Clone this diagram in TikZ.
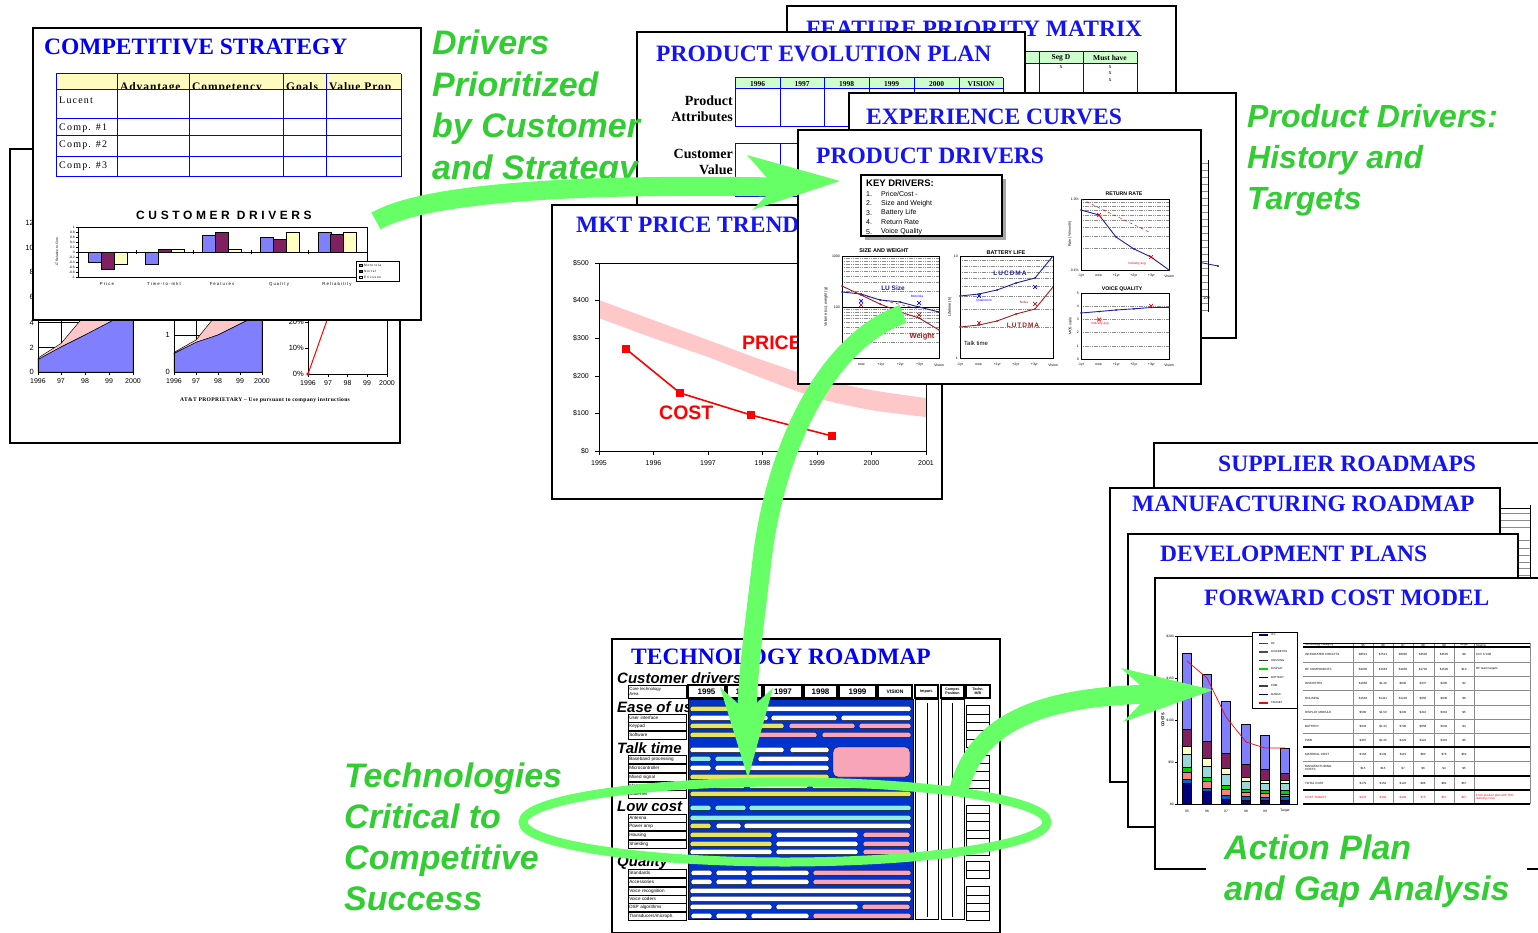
\documentclass[tikz,border=0pt]{standalone}
\usepackage{fontspec}
\setmainfont{Liberation Serif}
\setsansfont{Liberation Sans}
\definecolor{tblue}{RGB}{20,20,240}
\definecolor{ggreen}{RGB}{50,205,50}
\definecolor{agreen}{RGB}{102,255,102}
\definecolor{periw}{RGB}{128,128,255}
\definecolor{maroonc}{RGB}{128,32,96}
\definecolor{lyel}{RGB}{255,255,192}
\definecolor{hyel}{RGB}{255,250,190}
\definecolor{hgrn}{RGB}{204,255,204}
\definecolor{pband}{RGB}{255,200,200}
\definecolor{rblue}{RGB}{0,51,204}
\definecolor{barY}{RGB}{230,228,90}
\definecolor{barC}{RGB}{140,238,228}
\definecolor{barP}{RGB}{248,165,185}
\definecolor{dred}{RGB}{160,30,30}
\definecolor{sblue}{RGB}{30,30,160}
\definecolor{navyc}{RGB}{0,0,128}
\definecolor{midb}{RGB}{0,102,204}
\definecolor{salm}{RGB}{255,128,128}
\definecolor{lcyan}{RGB}{153,216,216}
\definecolor{gbar}{RGB}{0,210,0}
\definecolor{pgray}{gray}{0.55}
\newcommand{\pl}[4]{\filldraw[fill=#4,draw=black,line width=0.3pt,rounded corners=2.4pt] (#1,#3-2.6) rectangle (#2,#3+2.6);}
\newcommand{\xm}[3]{\draw[#3,line width=0.7pt] (#1-1.8,#2-1.8) -- (#1+1.8,#2+1.8) (#1-1.8,#2+1.8) -- (#1+1.8,#2-1.8);}
\newcommand{\cdbar}[3]{\filldraw[fill=#3,draw=black,line width=0.4pt] (#1,252) rectangle (#1+13,{252-25*(#2)});}
\newcommand{\stk}[9]{%
 \filldraw[fill=navyc,draw=black,line width=0.3pt] (#1-4.5,804) rectangle (#1+4.5,804-0.84*#2);
 \filldraw[fill=midb,draw=black,line width=0.3pt] (#1-4.5,804-0.84*#2) rectangle (#1+4.5,804-0.84*#3);
 \filldraw[fill=salm,draw=black,line width=0.3pt] (#1-4.5,804-0.84*#3) rectangle (#1+4.5,804-0.84*#4);
 \filldraw[fill=gbar,draw=black,line width=0.3pt] (#1-4.5,804-0.84*#4) rectangle (#1+4.5,804-0.84*#5);
 \filldraw[fill=lcyan,draw=black,line width=0.3pt] (#1-4.5,804-0.84*#5) rectangle (#1+4.5,804-0.84*#6);
 \filldraw[fill=lyel,draw=black,line width=0.3pt] (#1-4.5,804-0.84*#6) rectangle (#1+4.5,804-0.84*#7);
 \filldraw[fill=maroonc,draw=black,line width=0.3pt] (#1-4.5,804-0.84*#7) rectangle (#1+4.5,804-0.84*#8);
 \filldraw[fill=periw,draw=black,line width=0.3pt] (#1-4.5,804-0.84*#8) rectangle (#1+4.5,804-0.84*#9);}
\newcommand{\trow}[9]{%
 \node[sz=3,anchor=west,align=left,trt] (tr#1a) at (1305,#1) {#2};
 \node[sz=3,trt] (tr#1b) at (1363,#1) {#3};
 \node[sz=3,trt] (tr#1c) at (1383,#1) {#4};
 \node[sz=3,trt] (tr#1d) at (1403,#1) {#5};
 \node[sz=3,trt] (tr#1e) at (1423,#1) {#6};
 \node[sz=3,trt] (tr#1f) at (1444,#1) {#7};
 \node[sz=3,trt] (tr#1g) at (1464,#1) {#8};
 \node[sz=3,anchor=west,align=left,trt] (tr#1h) at (1476,#1) {#9};}
\newcommand{\xlab}[4]{\foreach \t [count=\i] in {-1yr,now,+1yr,+2yr,+3yr,Vision} \node[sz=3.5] (#4\i) at ({#1+(\i-1)*#2},#3) {\t};}
\begin{document}
\begin{tikzpicture}[x=1pt,y=-1pt,
 panel/.style={draw=black,line width=2.4pt,fill=white,inner sep=0pt,anchor=north west},
 ttl/.style={font=\bfseries\fontsize{23.5}{24}\selectfont,text=tblue,anchor=west,inner sep=0pt},
 gtxt/.style={font=\sffamily\bfseries\itshape\fontsize{34}{40}\selectfont,text=ggreen,anchor=base west,inner sep=0pt},
 sz/.style={inner sep=0pt,font=\sffamily\fontsize{#1}{#1}\selectfont},
 szb/.style={inner sep=0pt,font=\sffamily\bfseries\fontsize{#1}{#1}\selectfont},
 srb/.style={inner sep=0pt,font=\bfseries\fontsize{#1}{#1}\selectfont},
 sech/.style={inner sep=0pt,anchor=west,font=\sffamily\bfseries\itshape\fontsize{15}{15}\selectfont},
 bgrid/.style={draw=blue,line width=1pt},
 lgr/.style={draw=pgray,line width=0.45pt,dash pattern=on 1.2pt off 0.6pt},
 band/.style={draw=agreen,line width=19pt},
 ahead/.style={fill=agreen,draw=none},
 thinl/.style={line width=0.5pt},
 trt/.style={text=black},
 rlab/.style={draw,line width=0.6pt,inner sep=0pt,anchor=west,minimum width=58pt,minimum height=8pt,text width=56pt,align=left,font=\sffamily\fontsize{4.6}{4.6}\selectfont},
 ]
\fill[white] (0,0) rectangle (1538,933);
\useasboundingbox (0,0) rectangle (1538,933);

% ================= back panel (AT&T charts)
\node[panel,minimum width=390pt,minimum height=294pt] (att) at (9,148) {};
\foreach \v/\y [count=\i] in {12/223,10/248,8/272,6/297,4/323,2/348,0/372} \node[sz=7.5,anchor=east] (av\i) at (34,\y) {\v};
\draw[thinl] (38,347) -- (133,347) (38,322.5) -- (133,322.5) (61,300) -- (61,372) (85,300) -- (85,372) (109,300) -- (109,372);
\filldraw[fill=pband,draw=black,thinl] (38,359.6) -- (38,358) -- (61,343.5) -- (85,315) -- (109,300) -- (133,290) -- (133,310) -- (109,322.5) -- (85,335) -- (61,347) -- cycle;
\filldraw[fill=periw,draw=black,thinl] (38,372) -- (38,359.6) -- (61,347) -- (85,335) -- (109,322.5) -- (133,310) -- (133,372) -- cycle;
\draw[line width=0.8pt] (38,300) -- (38,372) -- (133,372) -- (133,300);
\foreach \x/\t [count=\i] in {38/1996,61/97,85/98,109/99,133/2000} {\draw (\x,372) -- (\x,375); \node[sz=7,anchor=north] (axa\i) at (\x,378) {\t};}
% chart 2
\draw[thinl] (174,335) -- (262,335) (196,300) -- (196,372) (218,300) -- (218,372) (240,300) -- (240,372);
\filldraw[fill=pband,draw=black,thinl] (174,353.5) -- (174,352.4) -- (196,340) -- (213,319) -- (225,295) -- (262,290) -- (262,313) -- (240,324) -- (218,335) -- (196,342.4) -- cycle;
\filldraw[fill=periw,draw=black,thinl] (174,372) -- (174,353.5) -- (196,342.4) -- (218,335) -- (240,324) -- (262,313) -- (262,372) -- cycle;
\draw[line width=0.8pt] (174,300) -- (174,372) -- (262,372) -- (262,300);
\node[sz=7.5,anchor=east] (bv1) at (170,335) {1};
\node[sz=7.5,anchor=east] (bv0) at (170,372) {0};
\foreach \x/\t [count=\i] in {174/1996,196/97,218/98,240/99,262/2000} {\draw (\x,372) -- (\x,375); \node[sz=7,anchor=north] (axb\i) at (\x,378) {\t};}
% chart 3
\draw[line width=0.8pt] (308,300) -- (308,374) -- (387,374) -- (387,300);
\draw (305,348) -- (308,348) (305,322) -- (308,322);
\foreach \x/\t [count=\i] in {308/1996,328/97,347.5/98,367/99,387/2000} {\draw (\x,374) -- (\x,377); \node[sz=7,anchor=north] (axc\i) at (\x,380) {\t};}
\node[sz=7.5,anchor=east] (cv2) at (304,322) {20\%};
\node[sz=7.5,anchor=east] (cv1) at (304,348) {10\%};
\node[sz=7.5,anchor=east] (cv0) at (304,374) {0\%};
\draw[red,line width=1pt] (308,374) -- (332,306);
\fill[red] (308,374) circle (1.8);
\node[srb=5.6] (attf) at (265,400) {\addfontfeature{LetterSpace=6}AT\&T PROPRIETARY -- Use pursuant to company instructions};

% ================= competitive strategy
\node[panel,minimum width=388pt,minimum height=292pt] (cs) at (32,27) {};
\node[ttl,text={rgb,255:red,0;green,0;blue,245}] (csT) at (44,47) {COMPETITIVE STRATEGY};
\fill[hyel] (56,74) rectangle (401,90);
\begin{scope}
\clip (56,74) rectangle (401,89.5);
\foreach \x/\t [count=\i] in {120/Advantage,192/Competency,286/Goals,329/Value Prop} \node[srb=11.5,anchor=base west] (csh\i) at (\x,91) {\addfontfeature{LetterSpace=8}\t};
\end{scope}
\draw[bgrid] (56,74) -- (401,74) (56,90) -- (401,90) (56,119) -- (401,119) (56,136) -- (401,136) (56,157) -- (401,157) (56,177) -- (401,177);
\foreach \x in {56,117,189,283,326,401} \draw[bgrid] (\x,74) -- (\x,177);
\foreach \y/\t [count=\i] in {100/Lucent,128/Comp. \#1,145/Comp. \#2,166/Comp. \#3} \node[anchor=west,inner sep=0pt,font=\fontsize{10}{10}\selectfont] (csr\i) at (59,\y) {\addfontfeature{LetterSpace=12}\t};
% customer drivers chart
\node[szb=12] (cdT) at (224,215) {\addfontfeature{LetterSpace=30}CUSTOMER DRIVERS};
\draw[line width=0.7pt] (78,227) rectangle (367,277);
\foreach \t [count=\i] in {1,0.8,0.6,0.4,0.2,0,-0.2,-0.4,-0.6,-0.8,-1} {\draw (76,{222+5*\i}) -- (78,{222+5*\i}); \node[sz=3.3,anchor=east] (cdy\i) at (75,{222+5*\i}) {\t};}
\cdbar{88}{-0.4}{periw}\cdbar{101}{-0.68}{maroonc}\cdbar{114}{-0.48}{lyel}
\cdbar{145}{-0.48}{periw}\cdbar{158}{0.1}{maroonc}\cdbar{171}{0.1}{lyel}
\cdbar{202}{0.67}{periw}\cdbar{215}{0.8}{maroonc}\cdbar{228}{0.1}{lyel}
\cdbar{260}{0.58}{periw}\cdbar{273}{0.5}{maroonc}\cdbar{286}{0.8}{lyel}
\cdbar{318}{0.8}{periw}\cdbar{330}{0.7}{maroonc}\cdbar{343}{0.8}{lyel}
\draw[line width=0.7pt] (78,252) -- (367,252);
\foreach \x in {136,193,251,308} \draw (\x,250) -- (\x,254);
\foreach \x/\t [count=\i] in {107/Price,164/Time-to-mkt,222/Features,279/Quality,337/Reliability} \node[sz=4.3] (cdx\i) at (\x,284) {\addfontfeature{LetterSpace=25}\t};
\node[sz=3.3,rotate=90] (cdyl) at (57,252) {LT Relative to Com};
\draw[line width=0.6pt,fill=white] (356,261) rectangle (399,281);
\foreach \c/\t/\y [count=\i] in {periw/Motorola/265,maroonc/Nortel/271,lyel/Ericsson/277} {\filldraw[fill=\c,draw=black,line width=0.2pt] (359,\y-1.3) rectangle (362,\y+1.3); \node[sz=3.2,anchor=west] (cdl\i) at (364,\y) {\addfontfeature{LetterSpace=20}\t};}

% ================= feature priority matrix
\node[panel,minimum width=389pt,minimum height=150pt] (fpm) at (786,5) {};
\node[ttl] (fpmT) at (806,28.5) {FEATURE PRIORITY MATRIX};
\fill[hgrn] (990,52) rectangle (1137,64);
\draw[bgrid] (990,52) -- (1137,52) (990,64) -- (1137,64);
\foreach \x in {995,1039,1083,1137} \draw[bgrid] (\x,52) -- (\x,110);
\node[srb=7.5] (fh1) at (1017,58) {Seg C};
\node[srb=7.5] (fh2) at (1061,58) {Seg D};
\node[srb=7.5] (fh3) at (1110,58) {Must have};
\foreach \x/\y [count=\i] in {1061/67,1110/67,1110/73,1110/80} \node[inner sep=0pt,font=\fontsize{6}{6}\selectfont] (fx\i) at (\x,\y) {x};

% ================= product evolution plan
\node[panel,minimum width=388pt,minimum height=200pt] (pep) at (636,31) {};
\node[ttl] (pepT) at (656,54) {PRODUCT EVOLUTION PLAN};
\fill[hgrn] (735,78) rectangle (1003,89);
\draw[bgrid] (735,78) -- (1003,78) (735,89) -- (1003,89) (735,127) -- (1003,127) (735,144) -- (1003,144) (735,197) -- (1003,197);
\foreach \x in {735,780,824,869,914,959,1003} \draw[bgrid] (\x,78) -- (\x,127) (\x,144) -- (\x,197);
\foreach \a/\b/\t [count=\i] in {735/780/1996,780/824/1997,824/869/1998,869/914/1999,914/959/2000,959/1003/VISION} \node[srb=7.5] (pey\i) at ({(\a+\b)/2},84) {\t};
\node[srb=14,anchor=base east] (pe1) at (733,106) {Product};
\node[srb=14,anchor=base east] (pe2) at (733,122) {Attributes};
\node[srb=14,anchor=base east] (pe3) at (733,159) {Customer};
\node[srb=14,anchor=base east] (pe4) at (733,175) {Value};

% ================= experience curves
\node[panel,minimum width=387pt,minimum height=245pt] (exc) at (848,92) {};
\node[ttl] (excT) at (866,117) {EXPERIENCE CURVES};
\foreach \k in {0,...,21} \draw[pgray,line width=0.5pt] (1198,{163+7*\k}) -- (1208,{163+7*\k});
\draw[line width=0.6pt] (1208,160) -- (1208,312);
\draw[sblue,line width=0.8pt] (1198,262) -- (1218,266);
\fill[sblue] (1218,266) circle (1.2);
\node[sz=4,anchor=west] (ex100) at (1203,298) {100};

% ================= MKT price trends
\node[panel,minimum width=390pt,minimum height=294pt] (mkt) at (551,204) {};
\node[ttl] (mktT) at (576,225) {MKT PRICE TRENDS};
\fill[pband] plot[smooth] coordinates {(599,300) (653,320) (708,340) (762,360) (817,378) (871,390) (926,398)} -- plot[smooth] coordinates {(926,417) (871,410) (817,398) (762,378) (708,357) (653,338) (599,318)} -- cycle;
\draw[line width=0.8pt] (599,263) rectangle (926,451);
\foreach \t [count=\i] in {\$500,\$400,\$300,\$200,\$100,\$0} {\draw (595,{263+37.6*(\i-1)}) -- (599,{263+37.6*(\i-1)}); \node[sz=7,anchor=east] (mky\i) at (589,{263+37.6*(\i-1)}) {\t};}
\foreach \t [count=\i] in {1995,1996,1997,1998,1999,2000,2001} {\draw ({599+54.5*(\i-1)},451) -- ({599+54.5*(\i-1)},455); \node[sz=7] (mkx\i) at ({599+54.5*(\i-1)},463) {\t};}
\draw[red,line width=1.6pt] (626,349) -- (680,393) -- (751,415) -- (832,436);
\foreach \x/\y in {626/349,680/393,751/415,832/436} \fill[red] (\x-4,\y-4) rectangle (\x+4,\y+4);
\node[szb=19.5,text=red,anchor=west] (mkP) at (742,343) {PRICE};
\node[szb=19.5,text=red,anchor=west] (mkC) at (659,413) {COST};

% ================= product drivers
\node[panel,minimum width=403pt,minimum height=254pt] (pdr) at (797,129) {};
\node[ttl] (pdrT) at (816,156) {PRODUCT DRIVERS};
\fill[gray!70] (865,179) rectangle (1006,240);
\filldraw[fill=white,draw=black,line width=1.2pt] (861,175) rectangle (1002,236);
\node[szb=9.5,anchor=west] (kd) at (866,183) {KEY DRIVERS:};
\foreach \t [count=\i] in {Price/Cost -,Size and Weight,Battery Life,Return Rate,Voice Quality} {\node[sz=7,anchor=west] (kdn\i) at (866,{184.5+9.5*\i}) {\i.}; \node[sz=7,anchor=west] (kdt\i) at (881,{184.5+9.5*\i}) {\t};}
% size and weight
\node[szb=5.5] (swT) at (884,251) {SIZE AND WEIGHT};
\foreach \T in {256,307} \foreach \f in {0.046,0.097,0.155,0.222,0.301,0.398,0.523,0.699} \draw[lgr] (842,{\T+51*\f}) -- (939,{\T+51*\f});
\draw[line width=0.6pt] (842,256) rectangle (939,358) (842,307) -- (939,307);
\node[sz=3.5,anchor=east] (sw1) at (840,256) {1000};
\node[sz=3.5,anchor=east] (sw2) at (840,307) {100};
\node[sz=3.8,rotate=90] (swy) at (826,307) {Volume (cc), weight (g)};
\draw[dred,dashed,line width=0.5pt] (861,295) -- (919,309);
\draw[sblue,line width=0.9pt] (842,292) -- (861,294) -- (880,300) -- (900,302) -- (919,307) -- (939,312);
\draw[dred,line width=0.9pt] (842,286) -- (861,295) -- (880,304) -- (900,312) -- (919,318) -- (939,330);
\foreach \x/\y in {842/292,861/294,880/300,900/302,919/307,939/312} \fill[sblue] (\x,\y) circle (1);
\foreach \x/\y in {842/286,861/295,880/304,900/312,919/318,939/330} \fill[dred] (\x,\y) circle (1);
\xm{861}{301}{blue}\xm{919}{303}{blue}\xm{861}{305}{dred}\xm{919}{315}{dred}
\node[szb=6.5,text=sblue] (swL) at (893,288) {LU Size};
\node[sz=3.2,text=blue] (swM) at (917,296) {Motorola};
\node[szb=7.5,text=dred] (swW) at (922,337) {Weight};
\xlab{842}{19.4}{365}{swx}
% battery life
\node[szb=5.5] (blT) at (1006,253) {BATTERY LIFE};
\foreach \f in {0.046,0.097,0.155,0.222,0.301,0.398,0.523,0.699} \draw[lgr] (960,{256+102*\f}) -- (1053,{256+102*\f});
\draw[line width=0.6pt] (960,256) rectangle (1053,358);
\node[sz=3.5,anchor=east] (bl1) at (958,256) {10};
\node[sz=3.5,anchor=east] (bl2) at (958,358) {1};
\node[sz=3.8,rotate=90] (bly) at (950,307) {Lifetime (h)};
\draw[sblue,line width=0.9pt] (960,296) -- (979,294) -- (997,290) -- (1016,283) -- (1035,278) -- (1053,256);
\draw[dred,line width=0.9pt] (960,327) -- (979,325) -- (997,321) -- (1016,314) -- (1035,309) -- (1053,287);
\foreach \x/\y in {960/296,979/294,997/290,1016/283,1035/278} \fill[sblue] (\x,\y) circle (1);
\foreach \x/\y in {960/327,979/325,997/321,1016/314,1035/309} \fill[dred] (\x,\y) circle (1);
\xm{979}{296}{blue}\xm{1035}{287}{blue}\xm{979}{323}{dred}\xm{1035}{304}{dred}
\node[szb=6.5,text=sblue] (blL) at (1010,273) {\addfontfeature{LetterSpace=15}LUCDMA};
\node[sz=3.2,text=blue] (blQ) at (984,301) {Qualcomm};
\node[sz=3.2,text=dred] (blN) at (1024,302) {Nokia};
\node[szb=6.5,text=dred] (blT2) at (1023,325) {\addfontfeature{LetterSpace=15}LUTDMA};
\node[sz=6,anchor=west] (blTT) at (964,343) {Talk time};
\xlab{960}{18.6}{365}{blx}
% return rate
\node[szb=5.2] (rrT) at (1124,194) {RETURN RATE};
\foreach \f in {0.046,0.097,0.155,0.222,0.301,0.398,0.523,0.699} \draw[lgr] (1081,{199+71*\f}) -- (1169,{199+71*\f});
\draw[line width=0.6pt] (1081,199) rectangle (1169,270);
\node[sz=3.5,anchor=east] (rr1) at (1079,199) {1.0\%};
\node[sz=3.5,anchor=east] (rr2) at (1079,270) {0.1\%};
\node[sz=3.6,rotate=90] (rry) at (1070,234) {Rate (\%/month)};
\draw[red,dashed,line width=0.5pt] (1081,199) -- (1151,233);
\draw[sblue,line width=0.9pt] (1081,210) -- (1099,215) -- (1116,237) -- (1134,249) -- (1151,257) -- (1169,270);
\foreach \x/\y in {1081/210,1099/215,1116/237,1134/249,1151/257,1169/270} \fill[sblue] (\x,\y) circle (1);
\xm{1099}{215}{red}\xm{1151}{257}{red}
\node[sz=3.2,text=red] (rrI) at (1137,264) {Industry avg};
\xlab{1081}{17.6}{276}{rrx}
% voice quality
\node[szb=5.2] (vqT) at (1122,289) {VOICE QUALITY};
\foreach \y in {306,319.5,332.5,346} \draw[lgr] (1081,\y) -- (1169,\y);
\draw[line width=0.6pt] (1081,293) rectangle (1169,359);
\foreach \t [count=\i] in {5,4,3,2,1,0} \node[sz=3.5,anchor=east] (vqy\i) at (1079,{293+13.2*(\i-1)}) {\t};
\node[sz=3.6,rotate=90] (vqyl) at (1070,326) {MOS scale};
\draw[sblue,line width=0.9pt] (1081,313) -- (1099,311.5) -- (1116,310) -- (1134,308.8) -- (1151,307.5) -- (1169,307.5);
\foreach \x/\y in {1081/313,1099/311.5,1116/310,1134/308.8,1151/307.5,1169/307.5} \fill[sblue] (\x,\y) circle (1);
\xm{1099}{319.5}{red}\xm{1151}{306}{red}
\node[sz=3.2,text=red] (vqI) at (1100,324) {Industry avg};
\xlab{1081}{17.6}{365}{vqx}

% ================= technology roadmap
\node[panel,minimum width=388pt,minimum height=294pt] (trm) at (611,638) {};
\node[ttl,text={rgb,255:red,0;green,0;blue,245}] (trmT) at (631,657) {TECHNOLOGY ROADMAP};
\node[sech] (cdrv) at (617,678) {Customer drivers};
\node[sech] (sec1) at (617,707) {Ease of use};
\node[sech] (sec2) at (617,748) {Talk time};
\node[sech] (sec3) at (617,806) {Low cost};
\node[sech] (sec4) at (617,863) {Quality};
\node[draw,line width=0.8pt,inner sep=0pt,minimum width=58pt,minimum height=13pt,anchor=north west,font=\sffamily\fontsize{4.3}{5}\selectfont,align=left,text width=56pt] (hcore) at (628,685) {Core technology\\Area};
\foreach \a/\b/\t [count=\i] in {688/725/1995,727/762/1996,764/802/1997,804/837/1998,839/876/1999} {\draw[line width=1.2pt] (\a,685) rectangle (\b,698); \node[szb=8] (yr\i) at ({(\a+\b)/2},691.5) {\t};}
\draw[line width=1.2pt] (878,685) rectangle (912,698);
\node[szb=5] (yrv) at (895,691.5) {VISION};
\draw[line width=1.2pt] (915,685) rectangle (938,698);
\node[szb=3.8] (himp) at (926.5,691.5) {Import.};
\draw[line width=1.2pt] (941,685) rectangle (964,698);
\node[szb=3.6,align=center] (hcmp) at (952.5,691.5) {Compet.\\Position};
\draw[line width=1.2pt] (966,685) rectangle (990,698);
\node[szb=3.6,align=center] (htmb) at (978,691.5) {Techn.\\M/B};
\filldraw[fill=rblue,draw=black,line width=0.8pt] (688,699) rectangle (913,919);
\draw[line width=0.8pt] (915,699) rectangle (938,919) (941,699) rectangle (964,919);
\draw[line width=1pt] (927,703) -- (927,917) (952,703) -- (952,917);
\foreach \s/\n in {705.7/5,755/5,805/6,861.7/2,886.7/4} \foreach \k in {1,...,\n} \draw[line width=0.8pt] (966,{\s+8.33*(\k-1)}) rectangle (989,{\s+8.33*\k});
\foreach \y/\t [count=\i] in {718/User interface,726/Keypad,735/Software,759/Baseband processing,768/Microcontroller,777/Mixed signal,786/Memory,794/Batteries,818/Antenna,826/Power amp,835/Housing,844/Shielding,873/Standards,882/Accessories,891/Voice recognition,899/Voice coders,907/DSP algorithms,916/{Transducers/microph.}} \node[rlab] (rl\i) at (628,\y) {\t};
\pl{690}{755}{709}{barY}\pl{765}{911}{709}{white}
\pl{690}{768}{718}{white}\pl{771}{837}{718}{white}\pl{841}{911}{718}{white}
\pl{690}{784}{726}{barY}\pl{789}{855}{726}{barP}\pl{859}{911}{726}{barP}
\pl{690}{743}{735}{barY}\pl{746}{817}{735}{barP}\pl{822}{911}{735}{barP}
\pl{690}{784}{750}{white}\pl{790}{829}{750}{white}
\filldraw[fill=barP,draw=black,line width=0.3pt,rounded corners=5pt] (833,747) rectangle (910,777);
\pl{690}{711}{759}{barC}\pl{715}{753}{759}{barC}\pl{758}{829}{759}{white}
\pl{690}{711}{768}{white}\pl{715}{829}{768}{white}
\pl{690}{829}{777}{barY}
\pl{690}{711}{786}{barY}\pl{715}{745}{786}{white}\pl{749}{808}{786}{white}\pl{812}{911}{786}{white}
\pl{690}{911}{794}{barY}
\pl{690}{711}{808}{barC}\pl{715}{746}{808}{barC}\pl{749}{911}{808}{barC}
\pl{690}{911}{818}{barC}
\pl{690}{711}{826}{barY}\pl{716}{741}{826}{white}\pl{744}{911}{826}{white}
\pl{690}{772}{835}{barY}\pl{776}{858}{835}{white}\pl{863}{910}{835}{barP}
\pl{690}{772}{844}{barY}\pl{776}{858}{844}{white}\pl{863}{910}{844}{barP}
\pl{690}{772}{852}{white}\pl{776}{858}{852}{white}\pl{863}{910}{852}{barP}
\pl{691}{712}{873}{white}\pl{716}{747}{873}{white}\pl{751}{809}{873}{white}\pl{813}{911}{873}{barP}
\pl{691}{712}{882}{white}\pl{716}{747}{882}{white}\pl{751}{809}{882}{white}\pl{813}{911}{882}{barP}
\pl{690}{911}{891}{white}
\pl{690}{911}{899}{white}
\pl{690}{772}{907}{white}\pl{776}{858}{907}{white}\pl{862}{910}{907}{barP}
\pl{691}{712}{916}{white}\pl{716}{747}{916}{white}\pl{751}{809}{916}{white}\pl{813}{911}{916}{barP}

% ================= right stack
\node[panel,minimum width=420pt,minimum height=200pt] (sup) at (1153,442) {};
\node[ttl] (supT) at (1218,464) {SUPPLIER ROADMAPS};
\foreach \y in {508,513,520,527,540,548,555,562,568,575} \draw[pgray,line width=0.6pt] (1480,\y) -- (1530,\y);
\draw[line width=0.8pt] (1530,505) -- (1530,600) (1480,508) -- (1530,508);
\node[panel,minimum width=390pt,minimum height=294pt] (man) at (1109,487) {};
\node[ttl] (manT) at (1132,504) {MANUFACTURING ROADMAP};
\node[panel,minimum width=390pt,minimum height=293pt] (dev) at (1127,533) {};
\node[ttl] (devT) at (1160,554) {DEVELOPMENT PLANS};
\node[panel,minimum width=420pt,minimum height=291pt] (fcm) at (1154,577) {};
\node[ttl] (fcmT) at (1204,598) {FORWARD COST MODEL};
\fill[white] (1206,861) rectangle (1527,876);
% stacked bar chart
\draw[line width=0.6pt] (1177,636) rectangle (1297,804);
\foreach \t [count=\i] in {\$200,\$150,\$100,\$50,\$0} {\draw (1175,{636+42*(\i-1)}) -- (1177,{636+42*(\i-1)}); \node[sz=3.3,anchor=east] (fcy\i) at (1174,{636+42*(\i-1)}) {\t};}
\node[szb=4,rotate=90] (fcyl) at (1163,720) {COSTS};
\stk{1187}{25}{30}{38}{44}{59}{69}{89}{180}
\stk{1207}{15}{19}{27}{32}{45}{55}{75}{155}
\stk{1226}{6}{11}{18}{23}{35}{43}{61}{122}
\stk{1246}{5}{9}{14}{18}{27}{32}{48}{95}
\stk{1265}{4}{8}{13}{17}{25}{28}{42}{82}
\stk{1285}{5}{9}{12}{17}{25}{28}{37}{67}
\draw[red,line width=0.7pt] (1187,661) -- (1207,678) -- (1226,717) -- (1246,742) -- (1265,748) -- (1285,748);
\foreach \x/\t [count=\i] in {1187/95,1207/96,1226/97,1246/98,1265/99,1285/Target} \node[sz=3.3] (fcx\i) at (\x,811) {\t};
\filldraw[fill=white,draw=black,line width=0.6pt] (1252,632) rectangle (1297,708);
\foreach \c/\t [count=\i] in {navyc/ICs,maroonc/RF,black!70/DISCRETES,black!80/HOUSING,gbar/DISPLAY,black/BATTERY,black!75/PWB,navyc/MANUF.,red/TARGET} {\draw[\c,line width=1.6pt] (1259,{626.5+8.5*\i}) -- (1268,{626.5+8.5*\i}); \node[sz=2.8,anchor=west] (fcl\i) at (1271,{626.5+8.5*\i}) {\t};}
% cost table
\foreach \x in {1353,1373,1393,1413,1434,1454,1474,1530} \draw[pgray,line width=0.4pt] (\x,643) -- (\x,804);
\foreach \y in {662,676,690,705,719,733,761} \draw[pgray,line width=0.4pt] (1303,\y) -- (1530,\y);
\draw[line width=0.5pt] (1303,643) -- (1530,643);
\foreach \y in {647,747,776,790,804} \draw[line width=1.2pt] (1303,\y) -- (1530,\y);
\trow{645}{Technology Category}{95}{96}{97}{98}{99}{Target}{Source}
\trow{654}{INTEGRATED CIRCUITS}{\$8621}{\$7521}{\$6000}{\$4500}{\$3500}{\$8}{CtrV 1/1/96}
\trow{669}{RF COMPONENTS}{\$2000}{\$1663}{\$1800}{\$1700}{\$1500}{\$10}{RF team targets}
\trow{683}{DISCRETES}{\$1050}{\$1.38}{\$845}{\$437}{\$205}{\$2}{}
\trow{698}{HOUSING}{\$1540}{\$1411}{\$1230}{\$850}{\$830}{\$8}{}
\trow{712}{DISPLAY MODULE}{\$500}{\$1.50}{\$430}{\$410}{\$310}{\$5}{}
\trow{726}{BATTERY}{\$943}{\$1.33}{\$795}{\$658}{\$634}{\$4}{}
\trow{740}{PWB}{\$467}{\$1.35}{\$423}{\$421}{\$415}{\$5}{}
\trow{754}{MATERIAL COST}{\$164}{\$139}{\$115}{\$90}{\$78}{\$62}{}
\trow{768}{MANUFACTURING\\COSTS}{\$15}{\$15}{\$7}{\$6}{\$4}{\$5}{}
\trow{783}{TOTAL COST}{\$179}{\$154}{\$122}{\$96}{\$82}{\$67}{}
\begin{scope}[trt/.style={text=red}]
\trow{797}{COST TARGET}{\$170}{\$150}{\$104}{\$75}{\$67}{\$67}{From product plan with 70\%\\learning curve}
\end{scope}

% ================= green captions
\node[gtxt] (g1a) at (432,55) {Drivers};
\node[gtxt] (g1b) at (432,96.5) {Prioritized};
\node[gtxt] (g1c) at (432,138) {by Customer};
\node[gtxt] (g1d) at (432,179.5) {and Strategy};
\node[gtxt,font=\sffamily\bfseries\itshape\fontsize{32}{40}\selectfont] (g2a) at (1247,128) {Product Drivers:};
\node[gtxt,font=\sffamily\bfseries\itshape\fontsize{32}{40}\selectfont] (g2b) at (1247,169) {History and};
\node[gtxt,font=\sffamily\bfseries\itshape\fontsize{32}{40}\selectfont] (g2c) at (1247,210) {Targets};
\node[gtxt] (g3a) at (344,787) {Technologies};
\node[gtxt] (g3b) at (344,828) {Critical to};
\node[gtxt] (g3c) at (344,869) {Competitive};
\node[gtxt] (g3d) at (344,910) {Success};
\node[gtxt] (g4a) at (1224,859) {Action Plan};
\node[gtxt] (g4b) at (1224,900) {and Gap Analysis};

% ================= green arrows and ellipse
\draw[draw=agreen,line width=9pt] (785,822) ellipse [x radius=262, y radius=40];
\coordinate (a1s) at (376,221);
\coordinate (a1e) at (775,187);
\coordinate (a1t) at (840,181);
\draw[band] (a1s) .. controls (430,190) and (600,184) .. (a1e);
\fill[ahead] (747,155) -- (a1t) -- (752,210) -- (a1e) -- cycle;
\coordinate (a2s) at (903,314);
\coordinate (a2m) at (762,560);
\coordinate (a2e) at (747,712);
\coordinate (a2t) at (748,778);
\draw[band] (a2s) .. controls (825,342) and (775,450) .. (a2m) .. controls (755,620) and (748,670) .. (a2e);
\fill[ahead] (720,687) -- (a2t) -- (773,688) -- (a2e) -- cycle;
\coordinate (a3s) at (958,793);
\coordinate (a3e) at (1150,694);
\coordinate (a3t) at (1213,690);
\draw[band] (a3s) .. controls (975,722) and (1040,697) .. (a3e);
\fill[ahead] (1121,668) -- (a3t) -- (1123,722) -- (a3e) -- cycle;
\end{tikzpicture}
\end{document}
